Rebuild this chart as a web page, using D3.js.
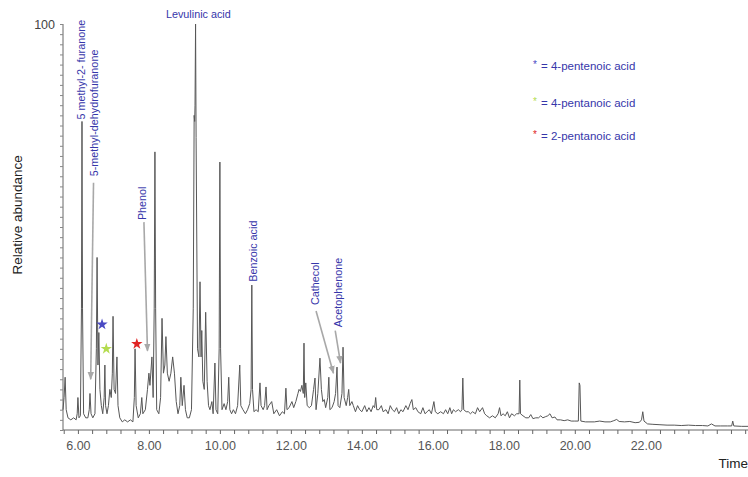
<!DOCTYPE html>
<html>
<head>
<meta charset="utf-8">
<script src="https://cdn.jsdelivr.net/npm/d3@7"></script>
<style>
  html, body { margin: 0; padding: 0; background: #fff; }
  svg { display: block; font-family: "Liberation Sans", Arial, sans-serif; }
</style>
</head>
<body>
<svg id="chart" width="748" height="477"></svg>
<script>
// Total ion chromatogram: retention time (min) vs relative abundance (%)
const traceTime = [
  5.58, 5.61, 5.64, 5.67, 5.72, 5.80, 5.88, 5.95, 5.98, 6.00, 6.03, 6.07, 6.10, 6.115, 6.13, 6.16, 6.22, 6.28, 6.32, 6.34,
  6.37, 6.42, 6.48, 6.52, 6.54, 6.565, 6.59, 6.62, 6.66, 6.70, 6.74, 6.76, 6.78, 6.82, 6.86, 6.90, 6.94, 6.97, 6.99, 7.02,
  7.06, 7.10, 7.13, 7.18, 7.25, 7.32, 7.40, 7.48, 7.55, 7.59, 7.61, 7.64, 7.70, 7.76, 7.80, 7.83, 7.90, 7.96, 8.00, 8.03,
  8.085, 8.12, 8.15, 8.17, 8.19, 8.22, 8.28, 8.33, 8.37, 8.41, 8.45, 8.48, 8.52, 8.57, 8.62, 8.67, 8.72, 8.77, 8.82, 8.87,
  8.90, 8.94, 8.99, 9.03, 9.08, 9.14, 9.20, 9.25, 9.275, 9.29, 9.30, 9.315, 9.33, 9.37, 9.41, 9.44, 9.47, 9.49, 9.52, 9.56,
  9.60, 9.64, 9.68, 9.72, 9.775, 9.81, 9.86, 9.89, 9.94, 9.98, 10.00, 10.02, 10.06, 10.12, 10.17, 10.22, 10.25, 10.28, 10.33, 10.38,
  10.44, 10.50, 10.56, 10.59, 10.65, 10.72, 10.78, 10.84, 10.88, 10.90, 10.92, 10.96, 11.02, 11.08, 11.13, 11.16, 11.22, 11.26, 11.30, 11.33,
  11.38, 11.46, 11.52, 11.60, 11.68, 11.76, 11.82, 11.86, 11.89, 11.95, 12.03, 12.08, 12.14, 12.20, 12.23, 12.27, 12.31, 12.35, 12.37, 12.39,
  12.42, 12.46, 12.52, 12.58, 12.64, 12.68, 12.71, 12.76, 12.82, 12.86, 12.90, 12.94, 12.98, 13.04, 13.07, 13.10, 13.16, 13.22, 13.26, 13.30,
  13.33, 13.38, 13.44, 13.47, 13.50, 13.56, 13.60, 13.63, 13.66, 13.72, 13.76, 13.82, 13.88, 13.94, 14.00, 14.08, 14.14, 14.20, 14.26, 14.32,
  14.36, 14.39, 14.42, 14.48, 14.55, 14.60, 14.68, 14.74, 14.80, 14.86, 14.92, 14.98, 15.04, 15.10, 15.16, 15.24, 15.30, 15.36, 15.41, 15.45,
  15.52, 15.58, 15.66, 15.72, 15.78, 15.84, 15.90, 15.96, 16.03, 16.07, 16.14, 16.22, 16.30, 16.36, 16.42, 16.48, 16.53, 16.58, 16.64, 16.72,
  16.78, 16.82, 16.845, 16.87, 16.94, 17.00, 17.06, 17.12, 17.20, 17.26, 17.32, 17.40, 17.46, 17.52, 17.60, 17.68, 17.76, 17.84, 17.88, 17.92,
  17.98, 18.04, 18.10, 18.16, 18.22, 18.30, 18.36, 18.43, 18.45, 18.47, 18.54, 18.62, 18.70, 18.76, 18.82, 18.90, 18.98, 19.04, 19.10, 19.18,
  19.24, 19.30, 19.36, 19.44, 19.50, 19.60, 19.70, 19.80, 19.90, 20.00, 20.10, 20.125, 20.145, 20.17, 20.30, 20.40, 20.55, 20.70, 20.85, 21.00,
  21.10, 21.18, 21.25, 21.40, 21.55, 21.70, 21.82, 21.88, 21.915, 21.95, 22.05, 22.20, 22.40, 22.60, 22.80, 23.00, 23.20, 23.40, 23.60, 23.75,
  23.85, 23.95, 24.10, 24.30, 24.42, 24.45, 24.48, 24.70, 24.88
];
const traceAbundance = [
  5, 8, 13, 5, 3, 2.5, 3, 2.5, 4, 8, 3, 3.5, 30, 76, 30, 4, 3, 3, 5, 9,
  4, 3, 4, 20, 42.5, 16, 24, 10, 6, 4, 8, 16, 6, 4, 6, 10, 8, 14, 28, 10,
  9, 18, 6, 3, 2, 2.5, 2, 2.5, 2, 8, 20, 6, 3, 4, 8, 4, 5, 10, 14, 11,
  18, 8, 30, 68.5, 30, 5, 4, 8, 27.5, 14, 16, 23, 14, 12, 14, 18, 14, 7, 4, 6,
  13, 6, 11, 5, 3, 3, 5, 30, 77.5, 76, 80, 100, 72, 20, 18, 36.5, 18, 24.5, 12, 10,
  29, 12, 6, 5, 7, 4, 16.5, 5, 4, 20, 66, 20, 5, 6.5, 5, 7, 13, 5, 4, 5,
  4, 6, 16, 6, 5, 4, 5, 6.5, 10, 35.7, 10, 4.5, 5, 4.5, 11.6, 6, 5, 6, 10.6, 5,
  6, 7, 4, 5, 3.5, 4.5, 4, 10.3, 5, 5.5, 7, 5.5, 7, 9, 10, 9.5, 11, 9, 21.4, 8,
  11.6, 6, 5.5, 6, 10, 12.8, 5, 9, 17.7, 10, 7, 7.5, 5.5, 8, 13, 5, 5.5, 7, 9, 15.5,
  6, 5.5, 9, 20.4, 8, 6, 8, 10, 6, 7, 6, 4.5, 6, 5, 4.5, 6, 4.5, 5.5, 4.5, 6,
  5.5, 8, 5, 5, 6, 4.5, 5, 4, 6, 5, 4.5, 5.5, 4, 5, 4.5, 6, 5, 6.5, 7.5, 5,
  5.5, 4.5, 4, 5.5, 4, 4.5, 5, 4, 7, 4.5, 4, 4.5, 4, 5, 4, 5.5, 4, 5, 4.5, 5,
  4.5, 5, 12.8, 5, 4.5, 4.5, 4, 4.5, 4, 5.5, 4.5, 5.5, 4, 3.5, 3, 3.5, 3, 4, 5.5, 3.5,
  4, 3.5, 4.5, 3, 4, 3.5, 4, 4, 12.3, 4, 3.5, 3, 3, 3.8, 2.8, 3, 3, 3.5, 3, 3.3,
  3.5, 4, 3, 3.2, 2.5, 2.5, 2.3, 2.5, 2.2, 2.2, 2.2, 11.6, 11, 2.2, 2, 2, 2, 2.2, 2, 2,
  2.3, 2.6, 2.1, 2, 2.1, 1.8, 1.9, 2.5, 4.5, 2.2, 1.5, 1.4, 1.3, 1.2, 1.2, 1.1, 1.2, 1.1, 1.1, 1,
  1.5, 1, 1, 1, 1, 2.2, 1, 0.9, 0.9
];

// Identified compounds
const compoundNames = ["5 methyl-2- furanone", "5-methyl-dehydrofuranone", "Levulinic acid", "Phenol", "Benzoic acid", "Cathecol", "Acetophenone"];

// Starred peaks (acids) and their legend
const starNames = ["4-pentenoic acid", "4-pentanoic acid", "2-pentanoic acid"];
const starTimes = [6.68, 6.8, 7.66];

// Axis ticks
const xMajorTicks = [6, 8, 10, 12, 14, 16, 18, 20, 22];
const yLabelTicks = [100];

// ---- layout ----
const svg = d3.select("#chart");
const x = d3.scaleLinear().domain([5.58, 24.88]).range([63, 748]);
const y = d3.scaleLinear().domain([0, 100]).range([430, 24]);

const blue = "#3636aa";
const starColors = ["#4a4ac4", "#b4dc50", "#e02424"];

// arrowhead marker
svg.append("defs").append("marker")
  .attr("id", "arrow").attr("viewBox", "0 0 10 10")
  .attr("refX", 9).attr("refY", 5)
  .attr("markerWidth", 5).attr("markerHeight", 5)
  .attr("orient", "auto-start-reverse")
  .append("path").attr("d", "M0,1 L10,5 L0,9 Z").attr("fill", "#a8a8a8");

// x axis
const xMinor = d3.range(5.6, 24.81, 0.4);
const xAxis = d3.axisBottom(x)
  .tickValues(xMinor)
  .tickSize(4)
  .tickFormat(d => xMajorTicks.some(m => Math.abs(m - d) < 1e-6) ? d3.format(".2f")(d) : "");
const gx = svg.append("g").attr("transform", `translate(0,${y(0)})`).call(xAxis);
gx.select(".domain").attr("stroke", "#666").attr("d", `M${x.range()[0]},0H${x.range()[1]}`);
gx.selectAll(".tick line").attr("stroke", "#666");
gx.selectAll(".tick text").attr("fill", "#555").attr("font-size", 12.5).attr("dy", "1.05em");

// y axis
const yAxis = d3.axisLeft(y)
  .tickValues(d3.range(0, 100.01, 2.5))
  .tickSize(3)
  .tickFormat(d => yLabelTicks.includes(d) ? d : "");
const gy = svg.append("g").attr("transform", `translate(${x(5.58)},0)`).call(yAxis);
gy.select(".domain").attr("stroke", "#666").attr("d", `M0,${y(100)}V${y(0)}`);
gy.selectAll(".tick line").attr("stroke", "#888");
gy.selectAll(".tick text").attr("fill", "#444").attr("font-size", 12.5).attr("dx", "-2");

// axis titles
svg.append("text").attr("x", 748).attr("y", 468)
  .attr("text-anchor", "end").attr("font-size", 13.5).attr("fill", "#222").text("Time");
svg.append("text")
  .attr("transform", `translate(22,${y(53)}) rotate(-90)`)
  .attr("text-anchor", "middle").attr("font-size", 13.5).attr("fill", "#222")
  .text("Relative abundance");

// chromatogram trace
const trace = traceTime.map((t, i) => [t, traceAbundance[i]]);
svg.append("path").datum(trace)
  .attr("fill", "none").attr("stroke", "#575757").attr("stroke-width", 1)
  .attr("stroke-linejoin", "round")
  .attr("d", d3.line().x(d => x(d[0])).y(d => y(d[1])));

// compound labels: anchor in data units (time, abundance)
const labelPos = [
  { t: 6.10, v: 76.5, rot: true },
  { t: 6.44, v: 62.5, rot: true },
  { t: 8.48, v: 102.5, rot: false },
  { t: 7.80, v: 51.7, rot: true },
  { t: 10.92, v: 36.5, rot: true },
  { t: 12.68, v: 30.8, rot: true },
  { t: 13.33, v: 25.3, rot: true }
];
compoundNames.forEach((name, i) => {
  const p = labelPos[i];
  const txt = svg.append("text")
    .attr("font-size", 10.8).attr("fill", blue)
    .attr("dominant-baseline", "central")
    .text(name);
  if (p.rot) txt.attr("transform", `translate(${x(p.t)},${y(p.v)}) rotate(-90)`);
  else txt.attr("x", x(p.t)).attr("y", y(p.v));
});

// arrows from labels to peaks: [from time, from abundance, to time, to abundance]
const arrows = [
  [6.44, 60.9, 6.36, 12.5],
  [7.86, 51.2, 7.96, 19.5],
  [12.71, 29.3, 13.2, 14],
  [13.25, 24.5, 13.4, 16.5]
];
svg.selectAll(".arrow").data(arrows).join("line")
  .attr("x1", d => x(d[0])).attr("y1", d => y(d[1]))
  .attr("x2", d => x(d[2])).attr("y2", d => y(d[3]))
  .attr("stroke", "#a8a8a8").attr("stroke-width", 1.6)
  .attr("marker-end", "url(#arrow)");

// stars over the acid peaks
const starLevels = [26, 20, 21.2];
const star = d3.symbol().type(d3.symbolStar).size(40);
starTimes.forEach((t, i) => {
  svg.append("path").attr("d", star)
    .attr("transform", `translate(${x(t)},${y(starLevels[i])})`)
    .attr("fill", starColors[i]);
});

// legend
const legendY = [66, 103, 136];
starNames.forEach((name, i) => {
  svg.append("text").attr("x", 533).attr("y", legendY[i] - 2)
    .attr("font-size", 10).attr("fill", starColors[i])
    .attr("dominant-baseline", "central").text("*");
  svg.append("text").attr("x", 541).attr("y", legendY[i])
    .attr("font-size", 11.5).attr("fill", blue)
    .attr("dominant-baseline", "central").text("= " + name);
});
</script>
</body>
</html>
